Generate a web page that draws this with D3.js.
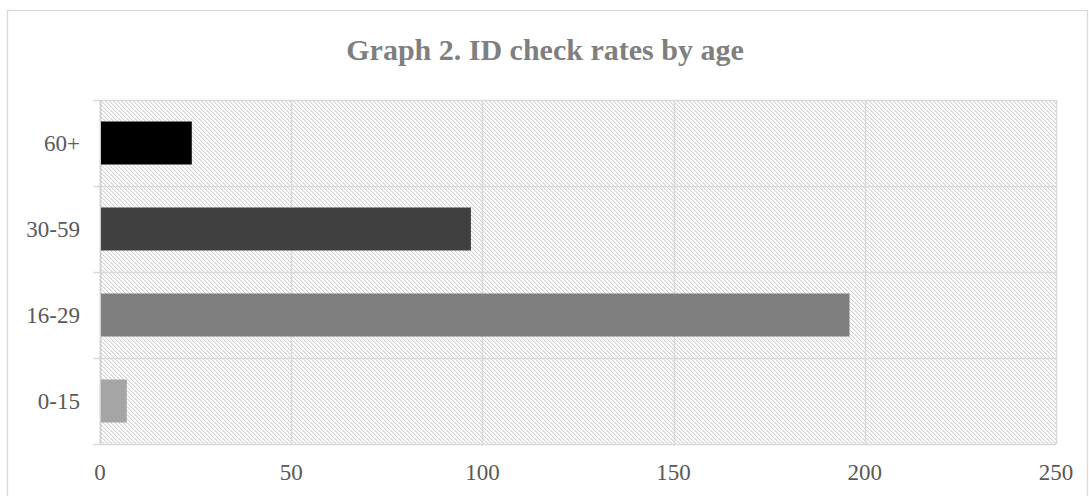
<!DOCTYPE html>
<html>
<head>
<meta charset="utf-8">
<script src="https://cdn.jsdelivr.net/npm/d3@7"></script>
<style>
  html, body { margin: 0; padding: 0; background: #fff; }
  svg { display: block; }
</style>
</head>
<body>
<script>
// Age groups, bottom to top as they appear on the chart
const categories = ["0-15", "16-29", "30-59", "60+"];
const values = [7, 196, 97, 24];
const barColors = ["#a5a5a5", "#7f7f7f", "#404040", "#000000"];
const xTicks = [0, 50, 100, 150, 200, 250];
const title = "Graph 2. ID check rates by age";

const W = 1089, H = 496;
const plot = { left: 100, right: 1056, top: 100, bottom: 444 };

const svg = d3.select("body").append("svg")
  .attr("width", W).attr("height", H);

// Downward diagonal hatch used as the plot-area fill
const defs = svg.append("defs");
const pat = defs.append("pattern")
  .attr("id", "hatch")
  .attr("patternUnits", "userSpaceOnUse")
  .attr("width", 4).attr("height", 4);
pat.append("rect").attr("width", 4).attr("height", 4).attr("fill", "#fff");
[[0,0],[1,1],[2,2],[3,3]].forEach(([px, py]) => {
  pat.append("rect").attr("x", px).attr("y", py)
    .attr("width", 1).attr("height", 1).attr("fill", "#d3d3d3");
});
[[1,0],[2,1],[3,2],[0,3]].forEach(([px, py]) => {
  pat.append("rect").attr("x", px).attr("y", py)
    .attr("width", 1).attr("height", 1).attr("fill", "#efefef");
});

// Chart frame
svg.append("rect")
  .attr("x", 7.5).attr("y", 10.5)
  .attr("width", 1080).attr("height", 500)
  .attr("fill", "#fff").attr("stroke", "#d9d9d9").attr("stroke-width", 1.3);

const x = d3.scaleLinear().domain([0, 250]).range([plot.left, plot.right]);
const y = d3.scaleBand().domain(categories.slice().reverse())
  .range([plot.top, plot.bottom]).paddingInner(0.5).paddingOuter(0.25);

// Hatched plot background
svg.append("rect")
  .attr("x", plot.left).attr("y", plot.top)
  .attr("width", plot.right - plot.left).attr("height", plot.bottom - plot.top)
  .attr("fill", "url(#hatch)");

// Vertical gridlines
svg.append("g").selectAll("line").data(xTicks).join("line")
  .attr("x1", d => Math.round(x(d)) + 0.5).attr("x2", d => Math.round(x(d)) + 0.5)
  .attr("y1", plot.top).attr("y2", plot.bottom)
  .attr("stroke", "#d9d9d9").attr("stroke-width", 1.5);

// Horizontal band separators with ticks on the left
const step = (plot.bottom - plot.top) / categories.length;
const bounds = d3.range(categories.length + 1).map(i => plot.top + i * step);
svg.append("g").selectAll("line").data(bounds).join("line")
  .attr("x1", plot.left - 7).attr("x2", plot.right)
  .attr("y1", d => Math.round(d) + 0.5).attr("y2", d => Math.round(d) + 0.5)
  .attr("stroke", "#d9d9d9").attr("stroke-width", 1.5);

// Left axis line
svg.append("line")
  .attr("x1", plot.left + 0.5).attr("x2", plot.left + 0.5)
  .attr("y1", plot.top).attr("y2", plot.bottom)
  .attr("stroke", "#d0d0d0").attr("stroke-width", 1.5);

// Bars
svg.append("g").selectAll("rect").data(categories).join("rect")
  .attr("x", x(0) + 1)
  .attr("y", d => y(d))
  .attr("width", (d, i) => x(values[i]) - x(0) - 1)
  .attr("height", y.bandwidth())
  .attr("fill", (d, i) => barColors[i]);

// Category labels
svg.append("g").selectAll("text").data(categories).join("text")
  .attr("x", 80)
  .attr("y", d => y(d) + y.bandwidth() / 2)
  .attr("dy", "0.35em")
  .attr("text-anchor", "end")
  .attr("font-family", "'Liberation Serif', 'Times New Roman', serif")
  .attr("font-size", 23)
  .attr("fill", "#595959")
  .text(d => d);

// Value axis labels
svg.append("g").selectAll("text").data(xTicks).join("text")
  .attr("x", d => x(d))
  .attr("y", 480)
  .attr("text-anchor", "middle")
  .attr("font-family", "'Liberation Serif', 'Times New Roman', serif")
  .attr("font-size", 23)
  .attr("fill", "#595959")
  .text(d => d);

// Title
svg.append("text")
  .attr("x", 545).attr("y", 60)
  .attr("text-anchor", "middle")
  .attr("font-family", "'Liberation Serif', 'Times New Roman', serif")
  .attr("font-weight", "bold")
  .attr("font-size", 30)
  .attr("fill", "#7f7f7f")
  .text(title);
</script>
</body>
</html>
